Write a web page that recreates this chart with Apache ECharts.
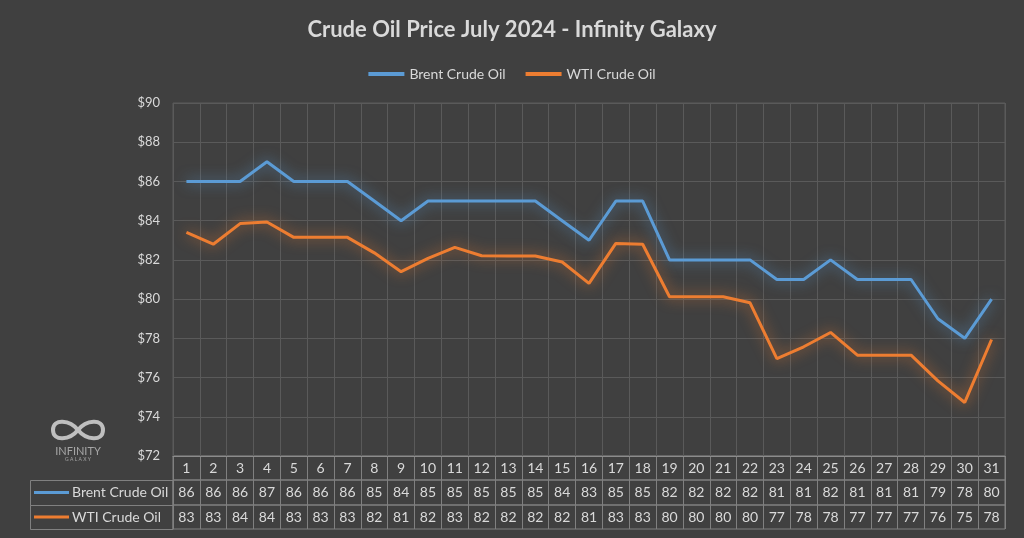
<!DOCTYPE html>
<html>
<head>
<meta charset="utf-8">
<script src="https://cdn.jsdelivr.net/npm/echarts@6/dist/echarts.min.js"></script>
<style>
html,body{margin:0;padding:0;background:#404040;}
#chart{width:1024px;height:538px;}
</style>
</head>
<body>
<div id="chart"></div>
<script>
const days = ['1','2','3','4','5','6','7','8','9','10','11','12','13','14','15','16','17','18','19','20','21','22','23','24','25','26','27','28','29','30','31'];
const brent = [86,86,86,87,86,86,86,85,84,85,85,85,85,85,84,83,85,85,82,82,82,82,81,81,82,81,81,81,79,78,80];
const wti = [83.4,82.8,83.85,83.93,83.15,83.15,83.15,82.36,81.4,82.08,82.64,82.21,82.2,82.2,81.89,80.8,82.84,82.8,80.12,80.12,80.12,79.81,76.97,77.57,78.3,77.14,77.14,77.14,75.83,74.73,77.94];
const yTicks = {min:72, max:90, step:2};

const FONT = 'Lato';
const TXT = '#d9d9d9';
const GRIDC = '#5a5a5a';
const TABLEC = '#808080';
const BLUE = '#5B9BD5';
const ORANGE = '#ED7D31';
const LOGO = '#bfbfbf';

const chart = echarts.init(document.getElementById('chart'));

function rowAxis(gridIndex, labels){
  return {
    type:'category', gridIndex, data: days, position:'top', boundaryGap:true,
    axisLine:{show:false}, axisTick:{show:false},
    axisLabel:{inside:true, margin:5, color:TXT, fontFamily:FONT, fontSize:14, interval:0,
      verticalAlign:'top',
      formatter:(v,i)=>String(labels[i])},
    splitLine:{show:true, interval:0, lineStyle:{color:TABLEC, width:1}}
  };
}
function rowY(gridIndex){
  return {type:'value', gridIndex, min:0, max:1, show:false, splitLine:{show:false}};
}
function curve(x1,y1,c1x,c1y,c2x,c2y,x2,y2){
  return {type:'bezierCurve', shape:{x1,y1,x2,y2,cpx1:c1x,cpy1:c1y,cpx2:c2x,cpy2:c2y},
    style:{fill:'none', stroke:LOGO, lineWidth:4}};
}

const option = {
  backgroundColor:'#404040',
  animation:false,
  title:{
    text:'Crude Oil Price July 2024 - Infinity Galaxy',
    left:'center', top:14,
    textStyle:{color:TXT, fontFamily:FONT, fontWeight:'bold', fontSize:22}
  },
  legend:{
    top:62, left:'center', itemWidth:36, itemHeight:4, itemGap:20, icon:'rect',
    textStyle:{color:TXT, fontFamily:FONT, fontSize:14},
    data:['Brent Crude Oil','WTI Crude Oil']
  },
  grid:[
    {left:173, width:832, top:103, height:353, show:true, borderColor:GRIDC, borderWidth:1, containLabel:false},
    {left:173, width:832, top:456, height:24, show:true, borderColor:TABLEC, borderWidth:1},
    {left:173, width:832, top:480, height:25, show:true, borderColor:TABLEC, borderWidth:1},
    {left:173, width:832, top:505, height:24, show:true, borderColor:TABLEC, borderWidth:1}
  ],
  xAxis:[
    {type:'category', gridIndex:0, data:days, boundaryGap:true,
     axisLine:{show:true, lineStyle:{color:'#8c8c8c', width:1}},
     axisTick:{show:false}, axisLabel:{show:false},
     splitLine:{show:true, interval:0, lineStyle:{color:GRIDC, width:1}}},
    rowAxis(1, days),
    rowAxis(2, brent.map(v=>Math.round(v))),
    rowAxis(3, wti.map(v=>Math.round(v)))
  ],
  yAxis:[
    {type:'value', gridIndex:0, min:yTicks.min, max:yTicks.max, interval:yTicks.step,
     axisLine:{show:false}, axisTick:{show:false},
     axisLabel:{color:TXT, fontFamily:FONT, fontSize:13, margin:13, formatter:v=>'$'+v},
     splitLine:{show:true, lineStyle:{color:GRIDC, width:1}}},
    rowY(1), rowY(2), rowY(3)
  ],
  series:[
    {name:'Brent Crude Oil', type:'line', xAxisIndex:0, yAxisIndex:0, data:brent,
     symbol:'none', smooth:false, color:BLUE,
     lineStyle:{width:3, color:BLUE, shadowBlur:14, shadowColor:'rgba(91,155,213,0.8)'}},
    {name:'WTI Crude Oil', type:'line', xAxisIndex:0, yAxisIndex:0, data:wti,
     symbol:'none', smooth:false, color:ORANGE,
     lineStyle:{width:3, color:ORANGE, shadowBlur:14, shadowColor:'rgba(237,125,49,0.8)'}}
  ],
  graphic:[
    {type:'rect', shape:{x:30.5, y:480.5, width:142.5, height:25}, style:{fill:'none', stroke:TABLEC, lineWidth:1}},
    {type:'rect', shape:{x:30.5, y:505.5, width:142.5, height:24}, style:{fill:'none', stroke:TABLEC, lineWidth:1}},
    {type:'line', shape:{x1:34, y1:492.5, x2:69, y2:492.5}, style:{stroke:BLUE, lineWidth:3}},
    {type:'line', shape:{x1:34, y1:517, x2:69, y2:517}, style:{stroke:ORANGE, lineWidth:3}},
    {type:'text', x:72, y:492.5, style:{text:'Brent Crude Oil', fill:TXT, font:'14px Lato', verticalAlign:'middle'}},
    {type:'text', x:72, y:517, style:{text:'WTI Crude Oil', fill:TXT, font:'14px Lato', verticalAlign:'middle'}},
    curve(78,430, 86,420, 103,418, 103,430),
    curve(103,430, 103,442, 86,440, 78,430),
    curve(78,430, 70,420, 53,418, 53,430),
    curve(53,430, 53,442, 70,440, 78,430),
    {type:'text', x:78, y:451, style:{text:'INFINITY', fill:'#a6a6a6', font:'11px Lato', align:'center', verticalAlign:'middle'}},
    {type:'text', x:78, y:459, style:{text:'G A L A X Y', fill:'#a6a6a6', font:'5px Lato', align:'center', verticalAlign:'middle'}}
  ]
};
chart.setOption(option);
</script>
</body>
</html>
